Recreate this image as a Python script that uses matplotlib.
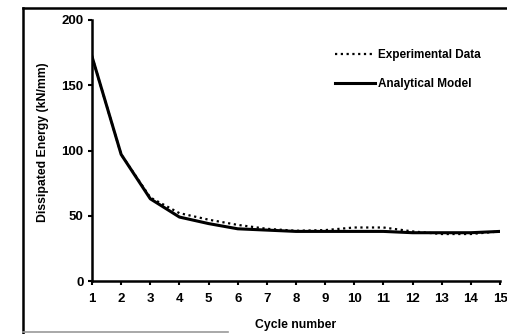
import matplotlib
matplotlib.use("Agg")
import matplotlib.pyplot as plt
from matplotlib.lines import Line2D

cycles = list(range(1, 16))
experimental = [172, 97, 64, 52, 47, 43, 40, 38.5, 39, 41, 41, 38, 36, 36, 38]
analytical = [172, 97, 63, 49, 44, 40, 39, 38, 38, 38, 38, 37, 37, 37, 38]
y_ticks = [0, 50, 100, 150, 200]

plt.rcParams['font.family'] = ['Liberation Sans', 'DejaVu Sans']
plt.rcParams['font.weight'] = 'bold'

W, H = 507, 334
fig = plt.figure(figsize=(W / 100, H / 100), dpi=100)
ax = fig.add_axes([92 / W, 1 - 281 / H, (500 - 92) / W, (281 - 20) / H])

ax.plot(cycles, experimental, color='black', lw=1.6, ls=(0, (1, 1.6)))
ax.plot(cycles, analytical, color='black', lw=2.2)

ax.set_xlim(1, 15)
ax.set_ylim(0, 200)
ax.set_xticks(cycles)
ax.set_yticks(y_ticks)
for s in ['top', 'right']:
    ax.spines[s].set_visible(False)
for s in ['left', 'bottom']:
    ax.spines[s].set_linewidth(1.8)
ax.tick_params(axis='both', direction='out', length=3, width=1.5,
               labelsize=9.5, pad=6)
ax.tick_params(axis='y', pad=3)
for lbl in ax.get_xticklabels() + ax.get_yticklabels():
    lbl.set_fontweight('bold')

ax.set_xlabel('Cycle number', fontsize=8.8, fontweight='bold', labelpad=10)
ax.set_ylabel('Dissipated Energy (kN/mm)', fontsize=8.8, fontweight='bold')
ax.yaxis.set_label_coords(-0.105, 0.53)

handles = [Line2D([], [], color='black', lw=1.6, ls=(0, (1, 1.6))),
           Line2D([], [], color='black', lw=2.2)]
ax.legend(handles, ['Experimental Data', 'Analytical Model'],
          loc='upper left', bbox_to_anchor=(0.57, 0.93), frameon=False,
          handlelength=3.4, handletextpad=0.2,
          labelspacing=1.45, prop={'weight': 'bold', 'size': 8.5})

# outer frame of the figure
fig.add_artist(Line2D([23 / W, 23 / W], [0, 1 - 8 / H], color='black',
                      lw=1.8, transform=fig.transFigure))
fig.add_artist(Line2D([23 / W, 1], [1 - 8 / H, 1 - 8 / H], color='black',
                      lw=1.8, transform=fig.transFigure))
fig.add_artist(Line2D([23 / W, 0.45], [1 - 332 / H, 1 - 332 / H],
                      color='#999999', lw=1.2, transform=fig.transFigure))

fig.savefig('out.png', dpi=100)
